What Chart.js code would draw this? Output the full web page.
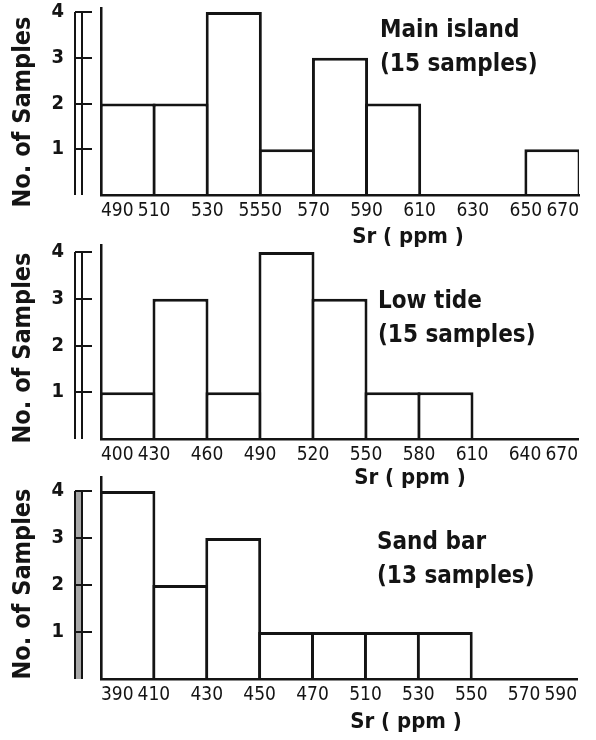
<!DOCTYPE html>
<html lang="en">
<head>
<meta charset="UTF-8">
<title>Sr histograms</title>
<script src="https://cdn.jsdelivr.net/npm/chart.js@4.4.0/dist/chart.umd.min.js"></script>
<style>
  * { margin: 0; padding: 0; box-sizing: border-box; }
  body { background: #fff; width: 596px; height: 740px; overflow: hidden; }
  .wrap { position: relative; width: 596px; height: 740px; }
  canvas { position: absolute; left: 0; }
</style>
</head>
<body>
<div class="wrap">
  <canvas id="chartMain" width="596" height="250" style="top:0"></canvas>
  <canvas id="chartLow" width="596" height="250" style="top:240px"></canvas>
  <canvas id="chartSand" width="596" height="270" style="top:470px"></canvas>
</div>

<script>
  // bin edges (labels as printed) and counts per bin
  const edgesMain = ['490', '510', '530', '5550', '570', '590', '610', '630', '650', '670'];
  const countsMain = [2, 2, 4, 1, 3, 2, 0, 0, 1];

  const edgesLow = ['400', '430', '460', '490', '520', '550', '580', '610', '640', '670'];
  const countsLow = [1, 3, 1, 4, 3, 1, 1, 0, 0];

  const edgesSand = ['390', '410', '430', '450', '470', '510', '530', '550', '570', '590'];
  const countsSand = [4, 2, 3, 1, 1, 1, 1, 0, 0];

  const yTicks = [1, 2, 3, 4];
  const siteNames = ['Main island', 'Low tide', 'Sand bar'];
  const sampleNotes = ['(15 samples)', '(15 samples)', '(13 samples)'];
  const xTitle = 'Sr ( ppm )';
  const yTitle = 'No. of Samples';

  const ink = '#141414';
  const cond = "'DejaVu Sans Condensed', 'Liberation Sans Narrow', sans-serif";

  // ruler on the left + titles + notes
  const frame = {
    id: 'frame',
    afterDraw(chart, args, o) {
      const ctx = chart.ctx;
      const y = chart.scales.y;
      const a = chart.chartArea;
      const top = y.getPixelForValue(yTicks[yTicks.length - 1]);
      ctx.save();
      if (o.rulerFill) {
        ctx.fillStyle = o.rulerFill;
        ctx.fillRect(75, top, 7, a.bottom - top);
      }
      ctx.strokeStyle = ink;
      ctx.lineWidth = 2;
      ctx.beginPath();
      [75, 82].forEach(x => { ctx.moveTo(x, top); ctx.lineTo(x, a.bottom); });
      yTicks.forEach(v => {
        const py = Math.round(y.getPixelForValue(v));
        ctx.moveTo(75, py); ctx.lineTo(92, py);
      });
      ctx.stroke();

      ctx.fillStyle = ink;
      ctx.textBaseline = 'middle';
      ctx.font = `bold 24px ${cond}`;
      ctx.textAlign = 'left';
      ctx.fillText(o.name, o.noteX, o.noteY);
      ctx.fillText(o.note, o.noteX, o.noteY + 34);

      ctx.font = `bold 22px ${cond}`;
      ctx.textAlign = 'center';
      ctx.fillText(xTitle, o.xtX, o.xtY);

      ctx.translate(23, o.ytY);
      ctx.rotate(-Math.PI / 2);
      ctx.font = `bold 25px ${cond}`;
      ctx.fillText(yTitle, 0, 0);
      ctx.restore();
    }
  };

  function histo(id, edges, counts, p) {
    const n = counts.length;
    const spacing = (p.right - 101) / n;
    new Chart(document.getElementById(id), {
      type: 'bar',
      data: {
        datasets: [{
          data: counts.map((c, i) => ({ x: i + 0.5, y: c })),
          backgroundColor: '#fff',
          borderColor: ink,
          borderWidth: 3,
          borderSkipped: 'start',
          barPercentage: (spacing + 3) / spacing,
          categoryPercentage: 1,
        }]
      },
      options: {
        responsive: false,
        animation: false,
        devicePixelRatio: 1,
        layout: { padding: { left: 0, top: p.top, right: 596 - p.right, bottom: p.h - p.bottom - 30 } },
        plugins: {
          legend: { display: false },
          tooltip: { enabled: false },
          frame: {
            name: p.name, note: p.note, noteX: p.noteX, noteY: p.noteY,
            xtX: p.xtX, xtY: p.xtY, ytY: p.ytY, rulerFill: p.rulerFill
          }
        },
        scales: {
          x: {
            type: 'linear',
            offset: false,
            min: 0,
            max: n,
            afterBuildTicks: s => { s.ticks = edges.map((_, i) => ({ value: i })); },
            afterFit: s => { s.height = 30; s.paddingLeft = 0; s.paddingRight = 0; },
            grid: { display: false, drawTicks: false, offset: false },
            border: { display: true, color: ink, width: 2.5, z: 1 },
            ticks: {
              autoSkip: false,
              maxRotation: 0,
              align: 'inner',
              padding: 5,
              color: ink,
              font: { family: cond, size: 19 },
              callback: v => edges[v]
            }
          },
          y: {
            min: 0,
            max: p.yMax,
            afterBuildTicks: s => { s.ticks = yTicks.map(v => ({ value: v })); },
            afterFit: s => { s.width = 101; s.paddingTop = 0; s.paddingBottom = 0; },
            grid: { display: false, drawTicks: false },
            border: { display: true, color: ink, width: 2.5, z: 1 },
            ticks: {
              padding: 37,
              color: ink,
              font: { family: cond, size: 20, weight: 'bold' }
            }
          }
        }
      },
      plugins: [frame]
    });
  }

  histo('chartMain', edgesMain, countsMain, {
    h: 250, top: 8, bottom: 195, right: 579, yMax: 4.09,
    name: siteNames[0], note: sampleNotes[0], noteX: 380, noteY: 31,
    xtX: 408, xtY: 237, ytY: 112
  });

  histo('chartLow', edgesLow, countsLow, {
    h: 250, top: 5, bottom: 199, right: 578, yMax: 4.15,
    name: siteNames[1], note: sampleNotes[1], noteX: 378, noteY: 62,
    xtX: 410, xtY: 238, ytY: 108
  });

  histo('chartSand', edgesSand, countsSand, {
    h: 270, top: 7, bottom: 209, right: 577, yMax: 4.3,
    name: siteNames[2], note: sampleNotes[2], noteX: 377, noteY: 73,
    xtX: 406, xtY: 252, ytY: 114, rulerFill: '#a8a8a8'
  });
</script>
</body>
</html>
